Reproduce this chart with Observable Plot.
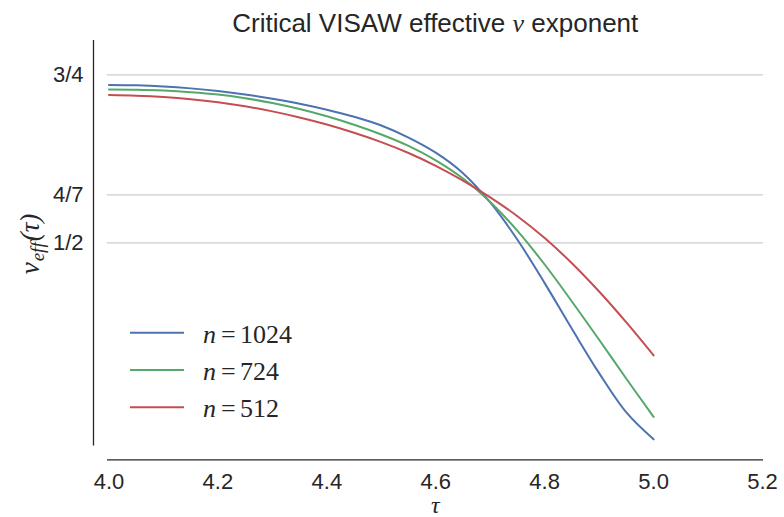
<!DOCTYPE html>
<html><head><meta charset="utf-8">
<script src="https://cdn.jsdelivr.net/npm/d3@7"></script>
<script src="https://cdn.jsdelivr.net/npm/@observablehq/plot@0.6"></script>
<style>body{margin:0;background:#fff} #chart svg{display:block}</style>
</head><body><div id="chart"></div>
<script>
const tau    = [4.00, 4.05, 4.10, 4.15, 4.20, 4.25, 4.30, 4.35, 4.40, 4.45, 4.50, 4.55, 4.60, 4.65, 4.70, 4.75, 4.80, 4.85, 4.90, 4.95, 5.00];
const nu1024 = [0.7350, 0.7344, 0.7327, 0.7298, 0.7258, 0.7207, 0.7144, 0.7070, 0.6981, 0.6876, 0.6746, 0.6566, 0.6341, 0.6036, 0.5600, 0.5045, 0.4400, 0.3720, 0.3060, 0.2475, 0.2075];
const nu724  = [0.7281, 0.7277, 0.7265, 0.7242, 0.7207, 0.7152, 0.7080, 0.6990, 0.6882, 0.6757, 0.6612, 0.6442, 0.6227, 0.5957, 0.5607, 0.5177, 0.4677, 0.4127, 0.3557, 0.2977, 0.2410];
const nu512  = [0.7198, 0.7188, 0.7168, 0.7136, 0.7091, 0.7031, 0.6956, 0.6866, 0.6761, 0.6638, 0.6498, 0.6336, 0.6146, 0.5926, 0.5676, 0.5396, 0.5071, 0.4696, 0.4275, 0.3815, 0.3325];
const seriesNames  = ["1024", "724", "512"];
const seriesColors = ["#4C72B0", "#55A868", "#C44E52"];
const yTickValues = [0.75, 4/7, 0.5];
const yTickLabels = ["3/4", "4/7", "1/2"];
const xTickValues = [4.0, 4.2, 4.4, 4.6, 4.8, 5.0, 5.2];

const data = [];
[nu1024, nu724, nu512].forEach((arr, i) =>
  arr.forEach((v, j) => data.push({tau: tau[j], nu: v, n: seriesNames[i]})));

const W = 784, H = 517;
const ML = 108.5, MR = 22, MT = 40.7, MB = 73.1;
const ink = "#262626";
const sans = "'Liberation Sans', Arial, sans-serif";
const serif = "'Liberation Serif', 'DejaVu Serif', serif";

const plot = Plot.plot({
  width: W, height: H,
  marginLeft: ML, marginRight: MR, marginTop: MT, marginBottom: MB,
  x: {domain: [4.0, 5.2]},
  y: {domain: [0.2, 0.8]},
  color: {domain: seriesNames, range: seriesColors},
  style: {fontFamily: sans, color: ink, background: "#fff", overflow: "visible"},
  marks: [
    Plot.gridY(yTickValues, {stroke: "#cccccc", strokeOpacity: 1, strokeWidth: 1.3, insetLeft: -1.5, insetRight: -1}),
    Plot.ruleX([4.0], {dx: -15.5, stroke: ink, strokeWidth: 1.3, insetTop: -0.7, insetBottom: -1.7}),
    Plot.ruleY([0.2], {dy: 15.5, stroke: ink, strokeWidth: 1.3, insetLeft: -1.5, insetRight: -1}),
    Plot.axisY(yTickValues, {tickFormat: d => yTickLabels[yTickValues.indexOf(d)], tickSize: 0, tickPadding: 25.5, fontSize: 22, label: null, fill: ink}),
    Plot.axisX(xTickValues, {tickFormat: d3.format(".1f"), tickSize: 0, tickPadding: 29, fontSize: 22, label: null, fill: ink}),
    Plot.line(data, {x: "tau", y: "nu", stroke: "n", strokeWidth: 2, curve: "catmull-rom"})
  ]
});
document.getElementById("chart").appendChild(plot);

const svg = d3.select(plot);
const xs = plot.scale("x");
const cx = (xs.range[0] + xs.range[1]) / 2;

// title
const t = svg.append("text").attr("x", cx).attr("y", 32.3).attr("text-anchor", "middle")
  .attr("font-family", sans).attr("font-size", 26).attr("fill", ink);
t.append("tspan").text("Critical VISAW effective ");
t.append("tspan").attr("font-family", serif).attr("font-style", "italic").text("ν");
t.append("tspan").text(" exponent");

// x label
svg.append("text").attr("x", cx).attr("y", 513).attr("text-anchor", "middle")
  .attr("font-family", serif).attr("font-style", "italic").attr("font-size", 24).attr("fill", ink).text("τ");

// y label
const yl = svg.append("text").attr("transform", "translate(39,244) rotate(-90)").attr("text-anchor", "middle")
  .attr("font-family", serif).attr("font-style", "italic").attr("font-size", 27).attr("fill", ink);
yl.append("tspan").text("ν");
yl.append("tspan").attr("font-size", 19).attr("dy", 5).attr("dx", 1).text("eff");
yl.append("tspan").attr("dy", -5).attr("dx", 1).text("(τ)");

// legend
const legY = [332.7, 370, 407.3];
seriesNames.forEach((name, i) => {
  svg.append("line").attr("x1", 130).attr("x2", 184).attr("y1", legY[i]).attr("y2", legY[i])
    .attr("stroke", seriesColors[i]).attr("stroke-width", 2);
  const lt = svg.append("text").attr("y", legY[i] + 10).attr("text-anchor", "start")
    .attr("font-family", serif).attr("font-size", 26).attr("fill", ink);
  lt.append("tspan").attr("x", 203).attr("font-style", "italic").text("n");
  lt.append("tspan").attr("x", 221).text("=");
  lt.append("tspan").attr("x", 240).text(name);
});
</script></body></html>
